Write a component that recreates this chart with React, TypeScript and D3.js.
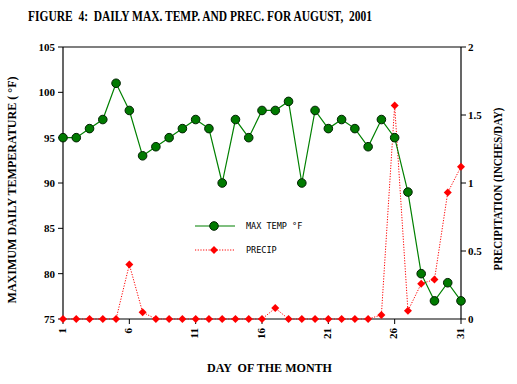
import React from "react";
import * as d3 from "d3";

const days = d3.range(1, 32);
const maxTemp = [95, 95, 96, 97, 101, 98, 93, 94, 95, 96, 97, 96, 90, 97, 95, 98, 98, 99, 90, 98, 96, 97, 96, 94, 97, 95, 89, 80, 77, 79, 77];
const precip = [0, 0, 0, 0, 0, 0.4, 0.05, 0, 0, 0, 0, 0, 0, 0, 0, 0, 0.08, 0, 0, 0, 0, 0, 0, 0, 0.03, 1.57, 0.06, 0.26, 0.29, 0.93, 1.12];
const xTicks = [1, 6, 11, 16, 21, 26, 31];
const tempTicks = [75, 80, 85, 90, 95, 100, 105];
const precTicks = [0, 0.5, 1, 1.5, 2];
const precTickLabels = ["0", "0.5", "1", "1.5", "2"];

const W = 517, H = 384;
const L = 63, R = 461, T = 47, B = 319;
const font = "'Liberation Serif', 'Times New Roman', serif";

export default function App() {
  const x = d3.scaleLinear().domain([1, 31]).range([L, R]);
  const yT = d3.scaleLinear().domain([75, 105]).range([B, T]);
  const yP = d3.scaleLinear().domain([0, 2]).range([B, T]);
  const tempLine = d3.line<number>().x((_, i) => x(days[i])).y(d => yT(d))(maxTemp) || "";
  const precLine = d3.line<number>().x((_, i) => x(days[i])).y(d => yP(d))(precip) || "";
  const diamond = (cx: number, cy: number, s = 4) => `M${cx},${cy - s}L${cx + s},${cy}L${cx},${cy + s}L${cx - s},${cy}Z`;

  return (
    <svg width={W} height={H} style={{ position: "absolute", left: 0, top: 0, background: "#fff" }} fontFamily={font}>
      <rect x={0} y={0} width={W} height={H} fill="#fff" />
      <text x={28} y={21} fontSize={14.5} fontWeight="bold" xmlSpace="preserve" textLength={344} lengthAdjust="spacingAndGlyphs">FIGURE  4:  DAILY MAX. TEMP. AND PREC. FOR AUGUST,  2001</text>
      {/* frame */}
      <line x1={L} x2={R} y1={T} y2={T} stroke="#000" strokeWidth={1.2} />
      <line x1={L} x2={L} y1={T} y2={B} stroke="#000" strokeWidth={1.2} />
      <line x1={R} x2={R} y1={T} y2={B} stroke="#000" strokeWidth={1.2} />
      <line x1={L} x2={R} y1={B} y2={B} stroke="#000" strokeWidth={1.2} />
      {/* left ticks */}
      {tempTicks.map(t => (
        <g key={"lt" + t}>
          <line x1={L - 5} x2={L} y1={yT(t)} y2={yT(t)} stroke="#000" />
          <text x={L - 8} y={yT(t) + 4} fontSize={11} fontWeight="bold" textAnchor="end">{t}</text>
        </g>
      ))}
      {/* right ticks */}
      {precTicks.map((t, i) => (
        <g key={"rt" + t}>
          <line x1={R} x2={R + 5} y1={yP(t)} y2={yP(t)} stroke="#000" />
          <text x={R + 7} y={yP(t) + 4} fontSize={11} fontWeight="bold" textAnchor="start">{precTickLabels[i]}</text>
        </g>
      ))}
      {/* x ticks */}
      {xTicks.map(t => (
        <g key={"xt" + t}>
          <line x1={x(t)} x2={x(t)} y1={B} y2={B + 5} stroke="#000" />
          <text transform={`translate(${x(t) + 2.5},${B + 9}) rotate(-90)`} fontSize={11} fontWeight="bold" textAnchor="end">{t}</text>
        </g>
      ))}
      {/* axis titles */}
      <text transform={`translate(${16},${190}) rotate(-90)`} fontSize={11.5} fontWeight="bold" textAnchor="middle" textLength={227} lengthAdjust="spacingAndGlyphs">MAXIMUM DAILY TEMPERATURE ( °F)</text>
      <text transform={`translate(${502},${189}) rotate(-90)`} fontSize={11.5} fontWeight="bold" textAnchor="middle" textLength={163} lengthAdjust="spacingAndGlyphs">PRECIPITATION (INCHES/DAY)</text>
      <text x={269.5} y={372} fontSize={11.5} fontWeight="bold" textAnchor="middle" xmlSpace="preserve" textLength={125} lengthAdjust="spacingAndGlyphs">DAY  OF THE MONTH</text>
      {/* precip series */}
      <path d={precLine} fill="none" stroke="#ff0000" strokeWidth={1} strokeDasharray="1.2,1.5" />
      {/* temp series */}
      <path d={tempLine} fill="none" stroke="#008000" strokeWidth={1.2} />
      {maxTemp.map((v, i) => (
        <circle key={"c" + i} cx={x(days[i])} cy={yT(v)} r={4.3} fill="#007a00" stroke="#002000" strokeWidth={1} />
      ))}
      {precip.map((v, i) => (
        <path key={"d" + i} d={diamond(x(days[i]), yP(v))} fill="#ff0000" />
      ))}
      {/* legend */}
      <line x1={195} x2={235} y1={226} y2={226} stroke="#008000" strokeWidth={1.2} />
      <circle cx={214} cy={226} r={4.3} fill="#007a00" stroke="#002000" strokeWidth={1} />
      <text x={246} y={229} fontSize={8.5} fontFamily="'DejaVu Sans Mono', monospace">MAX TEMP °F</text>
      <line x1={195} x2={235} y1={250} y2={250} stroke="#ff0000" strokeWidth={1} strokeDasharray="1.2,1.5" />
      <path d={diamond(214, 250)} fill="#ff0000" />
      <text x={246} y={253} fontSize={8.5} fontFamily="'DejaVu Sans Mono', monospace">PRECIP</text>
    </svg>
  );
}
